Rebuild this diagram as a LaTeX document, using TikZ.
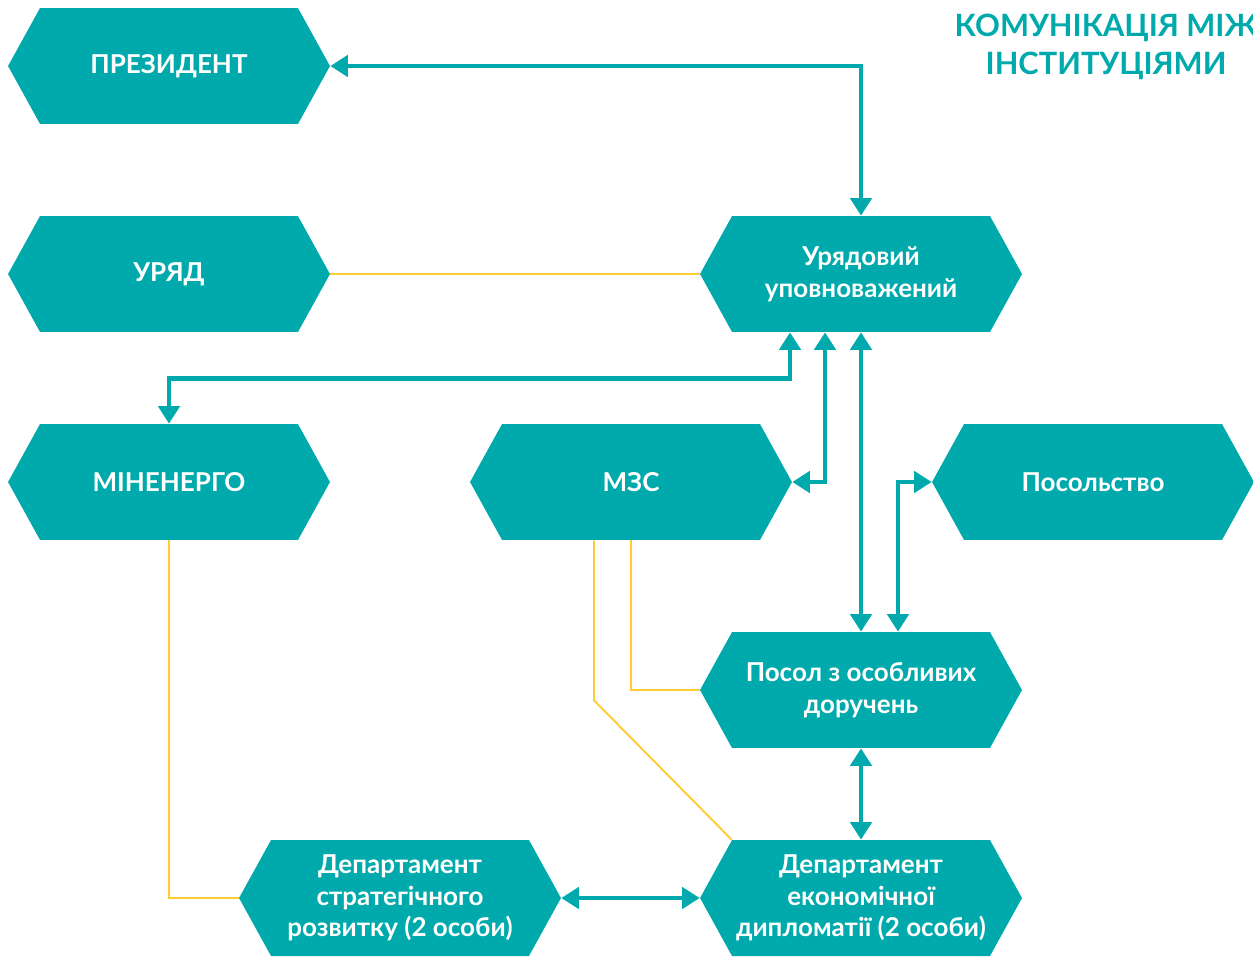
\documentclass[tikz,border=0pt]{standalone}
\usepackage{fontspec}
\setmainfont{Lato}
\usetikzlibrary{arrows.meta,calc}
\definecolor{tealc}{RGB}{0,170,172}
\definecolor{yellowc}{RGB}{255,204,51}
\tikzset{
  hexbox/.style={minimum width=6.44cm, minimum height=2.32cm, inner sep=0pt,
    text=white, align=center, font=\fontsize{14.8}{18}\selectfont\bfseries,
    path picture={\fill[tealc] (path picture bounding box.west)
      -- ([xshift=0.64cm]path picture bounding box.north west)
      -- ([xshift=-0.64cm]path picture bounding box.north east)
      -- (path picture bounding box.east)
      -- ([xshift=-0.64cm]path picture bounding box.south east)
      -- ([xshift=0.64cm]path picture bounding box.south west) -- cycle;}},
  link/.style={tealc, line width=2.6pt, line join=miter, {Triangle[width=0.42cm,length=0.35cm]}-{Triangle[width=0.42cm,length=0.35cm]}},
  thinlink/.style={yellowc, line width=1.1pt}
}
\begin{document}
\begin{tikzpicture}[x=0.02cm, y=-0.02cm]
\useasboundingbox (0,0) rectangle (1253,956);
\node[hexbox] (prez) at (169,66) {ПРЕЗИДЕНТ};
\node[hexbox] (uryad) at (169,274) {УРЯД};
\node[hexbox] (upov) at (861,274) {Урядовий\\уповноважений};
\node[hexbox] (minen) at (169,482) {МІНЕНЕРГО};
\node[hexbox] (mzs) at (631,482) {МЗС};
\node[hexbox] (posolstvo) at (1093,482) {Посольство};
\node[hexbox] (posol) at (861,690) {Посол з особливих\\доручень};
\node[hexbox] (depstr) at (400,898) {Департамент\\стратегічного\\розвитку (2 особи)};
\node[hexbox] (depek) at (861,898) {Департамент\\економічної\\дипломатії (2 особи)};
\node[text=tealc, align=center, font=\fontsize{17.5}{22}\selectfont\bfseries] (title) at (1106,47) {КОМУНІКАЦІЯ МІЖ\\ІНСТИТУЦІЯМИ};
% yellow links
\draw[thinlink] (uryad.east) -- (upov.west);
\draw[thinlink] (minen.south) |- (depstr.west);
\draw[thinlink] (mzs.south) |- (posol.west);
\draw[thinlink] ([xshift=-0.74cm]mzs.south) -- ++(0,160) -- ([xshift=0.64cm]depek.north west);
% teal links
\draw[link] (prez.east) -| (upov.north);
\draw[link] ([xshift=-1.42cm]upov.south) -- ++(0,46) -| (minen.north);
\draw[link] ([xshift=-0.72cm]upov.south) |- (mzs.east);
\draw[link] (upov.south) -- (posol.north);
\draw[link] (posolstvo.west) -| ([xshift=0.74cm]posol.north);
\draw[link] (posol.south) -- (depek.north);
\draw[link] (depstr.east) -- (depek.west);
\end{tikzpicture}
\end{document}
